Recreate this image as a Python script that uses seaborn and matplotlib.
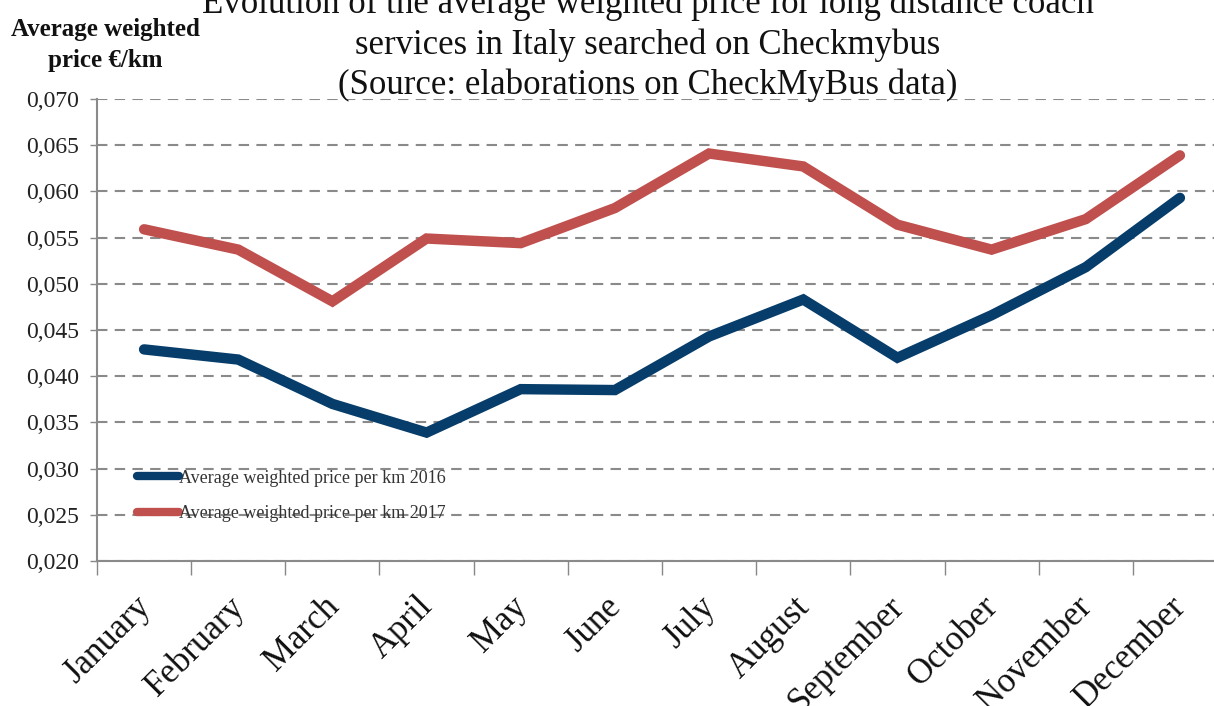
import matplotlib
matplotlib.use("Agg")
import matplotlib.pyplot as plt
import matplotlib.transforms as mtransforms
from matplotlib.ticker import FixedLocator, FuncFormatter
import seaborn as sns
import pandas as pd
import numpy as np

months = ["January", "February", "March", "April", "May", "June", "July",
          "August", "September", "October", "November", "December"]
price_2016 = [0.0429, 0.0418, 0.0370, 0.0339, 0.0386, 0.0385, 0.0443,
              0.0483, 0.0420, 0.0466, 0.0518, 0.0593]
price_2017 = [0.0559, 0.0537, 0.0481, 0.0549, 0.0544, 0.0582, 0.0641,
              0.0627, 0.0564, 0.0537, 0.0570, 0.0639]
series_names = ["Average weighted price per km 2016",
                "Average weighted price per km 2017"]
y_ticks = [0.020, 0.025, 0.030, 0.035, 0.040, 0.045, 0.050, 0.055, 0.060, 0.065, 0.070]
title_text = ("Evolution of the average weighted price for long distance coach\n"
              "services in Italy searched on Checkmybus\n"
              "(Source: elaborations on CheckMyBus data)")
ylabel_text = "Average weighted\nprice €/km"

sns.set_theme(style="white")
plt.rcParams['font.family'] = ['Liberation Serif', 'DejaVu Serif']

df = pd.DataFrame({
    "idx": list(range(len(months))) * 2,
    "value": price_2016 + price_2017,
    "series": [series_names[0]] * len(months) + [series_names[1]] * len(months),
})

fig = plt.figure(figsize=(12.14, 7.06), dpi=100)
W, H = 1214, 706
ax = fig.add_axes([97 / W, (H - 561) / H, (1227 - 97) / W, (561 - 99) / H])

palette = {series_names[0]: "#073D6A", series_names[1]: "#C0504D"}
sns.lineplot(data=df, x="idx", y="value", hue="series", palette=palette,
             linewidth=7.5, ax=ax, solid_capstyle="round", solid_joinstyle="miter",
             zorder=3)

ax.set_xlim(-0.5, len(months) - 0.5)
ax.set_ylim(0.020, 0.070)
ax.set_yticks(y_ticks)
ax.yaxis.set_major_formatter(FuncFormatter(lambda v, p: f"{v:.3f}".replace(".", ",")))
ax.tick_params(axis="y", labelsize=17, length=5, width=1, color="#888888",
               direction="out", pad=8, left=True, labelcolor="#222222")

ax.xaxis.set_major_locator(FixedLocator(np.arange(-0.5, len(months), 1.0)))
ax.xaxis.set_minor_locator(FixedLocator(np.arange(len(months))))
ax.xaxis.set_major_formatter(FuncFormatter(lambda v, p: ""))
ax.xaxis.set_minor_formatter(FuncFormatter(lambda v, p: months[int(round(v))]))
ax.tick_params(axis="x", which="major", length=10, width=1, color="#888888",
               direction="out", bottom=True)
ax.tick_params(axis="x", which="minor", length=0, labelsize=25, pad=21,
               labelcolor="#111111")
offset = mtransforms.ScaledTranslation(-10 / 100, 0, fig.dpi_scale_trans)
for lab in ax.xaxis.get_minorticklabels():
    lab.set_rotation(45)
    lab.set_ha("right")
    lab.set_va("top")
    lab.set_rotation_mode("anchor")
    lab.set_transform(lab.get_transform() + offset)

ax.grid(axis="y", color="#8a8a8a", linestyle=(0, (5, 3.5)), linewidth=1.5, zorder=0)
ax.grid(axis="x", visible=False)
for s in ["top", "right"]:
    ax.spines[s].set_visible(False)
for s in ["left", "bottom"]:
    ax.spines[s].set_color("#8a8a8a")
    ax.spines[s].set_linewidth(1.5)
ax.set_xlabel("")
ax.set_ylabel("")

leg = ax.legend(loc="upper left", bbox_to_anchor=(0.029, 0.213), frameon=False,
                fontsize=13, handlelength=2.3, handletextpad=0.0,
                labelspacing=1.0, borderaxespad=0)
for h in leg.get_lines():
    h.set_linewidth(6)
    h.set_solid_capstyle("round")
for t in leg.get_texts():
    t.set_color("#333333")

fig.text(648 / W, 1 - 102 / H, title_text, ha="center", va="bottom",
         fontsize=25, linespacing=1.27, color="#111111")
fig.text(105 / W, 1 - 45 / H, ylabel_text, ha="center", va="center",
         fontsize=18, fontweight="bold", linespacing=1.45, color="#111111")

fig.savefig("out.png", dpi=100)
